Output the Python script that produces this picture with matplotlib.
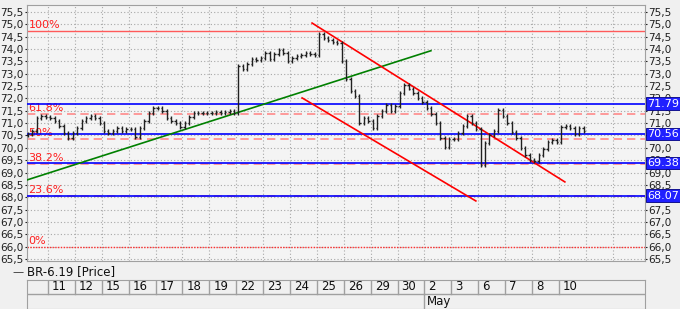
import numpy as np
import matplotlib
matplotlib.use("Agg")
import matplotlib.pyplot as plt
from matplotlib.ticker import FuncFormatter, MultipleLocator
import matplotlib.transforms as mtransforms

# trading days shown on the date strip (first cell is Apr 10, unlabeled)
day_labels = ["", "11", "12", "15", "16", "17", "18", "19", "22", "23", "24",
              "25", "26", "29", "30", "2", "3", "6", "7", "8", "10"]
month_label = "May"
month_day_index = 15

# closes, 6 bars per day, first day starts at its 2nd bar
closes = [
    70.55, 70.7, 71.2, 71.3, 71.25,               # Apr 10
    71.2, 71.1, 70.9, 70.6, 70.4, 70.6,           # 11
    70.8, 71.1, 71.2, 71.3, 71.2, 71.0,           # 12
    70.7, 70.6, 70.7, 70.8, 70.7, 70.75,          # 15
    70.75, 70.45, 70.8, 71.1, 71.4, 71.6,         # 16
    71.6, 71.5, 71.2, 71.1, 71.0, 70.85,          # 17
    71.0, 71.25, 71.4, 71.4, 71.4, 71.4,          # 18
    71.4, 71.45, 71.4, 71.45, 71.5, 71.42,        # 19
    73.3, 73.2, 73.4, 73.6, 73.55, 73.65,         # 22
    73.85, 73.6, 73.8, 73.95, 73.85, 73.5,        # 23
    73.65, 73.7, 73.75, 73.85, 73.8, 73.75,       # 24
    74.6, 74.45, 74.35, 74.3, 74.25, 73.5,        # 25
    72.8, 72.3, 72.1, 71.0, 71.2, 71.1,           # 26
    70.8, 71.3, 71.5, 71.75, 71.5, 71.7,          # 29
    72.2, 72.55, 72.4, 72.2, 72.0, 71.85,         # 30
    71.6, 71.35, 71.0, 70.4, 70.05, 70.35,        # May 2
    70.35, 70.6, 70.9, 71.3, 71.0, 70.75,         # 3
    69.3, 70.2, 70.5, 70.7, 71.55, 71.3,          # 6
    71.0, 70.65, 70.4, 70.0, 69.7, 69.5,          # 7
    69.45, 69.7, 69.95, 70.25, 70.3, 70.25,       # 8
    70.85, 70.9, 70.8, 70.55, 70.8, 70.7,         # 10
]
first_open = 70.5
bars_per_day = 6
first_bar_slot = 1

# fibonacci levels
fib_low = 66.0
fib_high = 74.72
fib_ratios = [1.0, 0.618, 0.5, 0.382, 0.236, 0.0]
fib_names = ["100%", "61.8%", "50%", "38.2%", "23.6%", "0%"]

# blue support/resistance levels with right-side labels
blue_levels = [71.79, 70.56, 69.38, 68.07]

# trend lines: (day position, price) endpoints
green_line = ([0.22, 15.24], [68.7, 73.93])
red_upper = ([10.82, 20.22], [75.05, 68.62])
red_lower = ([10.45, 16.91], [72.02, 67.85])

fig = plt.figure(figsize=(6.8, 3.09), dpi=100)
fig.patch.set_facecolor("#f0f0f0")

W, H = 680, 309
ax = fig.add_axes([27 / W, (H - 261) / H, (645 - 27) / W, (261 - 5) / H])
ax.set_facecolor("#f4f4f4")
ax.set_xlim(0.22, 23.2)
ax.set_ylim(65.42, 75.78)

# grid
ax.yaxis.set_major_locator(MultipleLocator(0.5))
ax.set_xticks(np.arange(1, 23))
ax.grid(True, color="#a8a8a8", linestyle=(0, (1, 2)), linewidth=0.8)
ax.set_axisbelow(True)
ax.tick_params(axis="x", length=0, labelbottom=False)
ax.tick_params(axis="y", length=1.5, labelsize=7.6, pad=0.8, colors="#202020",
               left=True, right=True, labelleft=True, labelright=True)
ax.yaxis.set_major_formatter(FuncFormatter(lambda v, p: f"{v:.1f}".replace(".", ",")))
for s in ax.spines.values():
    s.set_color("#a0a0a0")

# fibonacci lines
for r, name in zip(fib_ratios, fib_names):
    lvl = fib_low + r * (fib_high - fib_low)
    if r == 1.0:
        ax.axhline(lvl, color="#ff5a5a", lw=1.0, zorder=2)
    elif r == 0.0:
        ax.axhline(lvl, color="#ff3030", lw=1.0, linestyle=(0, (1, 1)), zorder=2)
    else:
        ax.axhline(lvl, color="#ff8a8a", lw=1.2, linestyle=(0, (5, 3)), zorder=2)
    ax.text(0.28, lvl + 0.04, name, color="#ff2020", fontsize=8,
            va="bottom", ha="left", zorder=3)

# blue lines + labels
lbl_tr = mtransforms.blended_transform_factory(ax.transAxes, ax.transData)
for lvl in blue_levels:
    ax.axhline(lvl, color="#0000ff", lw=1.2, zorder=3)
    ax.text(1.004, lvl, f"{lvl:.2f}", transform=lbl_tr, color="white", fontsize=8,
            va="center", ha="left", zorder=6, clip_on=False,
            bbox=dict(boxstyle="square,pad=0.12", fc="#2020ff", ec="#000080", lw=0.6))

# trend lines
ax.plot(*green_line, color="#008000", lw=1.2, zorder=4)
ax.plot(*red_upper, color="#ff0000", lw=1.2, zorder=4)
ax.plot(*red_lower, color="#ff0000", lw=1.2, zorder=4)

# OHLC bars
c = np.array(closes)
o = np.concatenate([[first_open], c[:-1]])
hi = np.maximum(o, c) + 0.08
lo = np.minimum(o, c) - 0.08
xs = (np.arange(len(c)) + first_bar_slot + 0.5) / bars_per_day
tw = 0.05
ax.vlines(xs, lo, hi, color="#202020", lw=1.0, zorder=5)
ax.hlines(o, xs - tw, xs, color="#202020", lw=1.0, zorder=5)
ax.hlines(c, xs, xs + tw, color="#202020", lw=1.0, zorder=5)

# legend text
fig.text(12 / W, 1 - 272 / H, "\u2014", fontsize=8, va="center", ha="left", color="#303030")
fig.text(27 / W, 1 - 272 / H, "BR-6.19 [Price]", fontsize=8.5, va="center", ha="left",
         color="#101010")

# date strip
dax = fig.add_axes([27 / W, 0.0, (645 - 27) / W, (H - 280) / H])
dax.set_facecolor("#f0f0f0")
dax.set_xlim(ax.get_xlim())
dax.set_ylim(0, 29)
dax.set_xticks([])
dax.set_yticks([])
for s in dax.spines.values():
    s.set_color("#a0a0a0")
dax.axhline(15, color="#a0a0a0", lw=1.0)
for i, lab in enumerate(day_labels):
    if i > 0:
        dax.plot([i, i], [15, 29], color="#a0a0a0", lw=1.0)
    if lab:
        dax.text(i + 0.15, 22, lab, fontsize=8.5, va="center", ha="left", color="#101010")
dax.plot([month_day_index, month_day_index], [0, 15], color="#a0a0a0", lw=1.0)
dax.text(month_day_index + 0.08, 7.5, month_label, fontsize=8.5, va="center", ha="left",
         color="#101010")

fig.savefig("out.png", dpi=100, facecolor=fig.get_facecolor())
